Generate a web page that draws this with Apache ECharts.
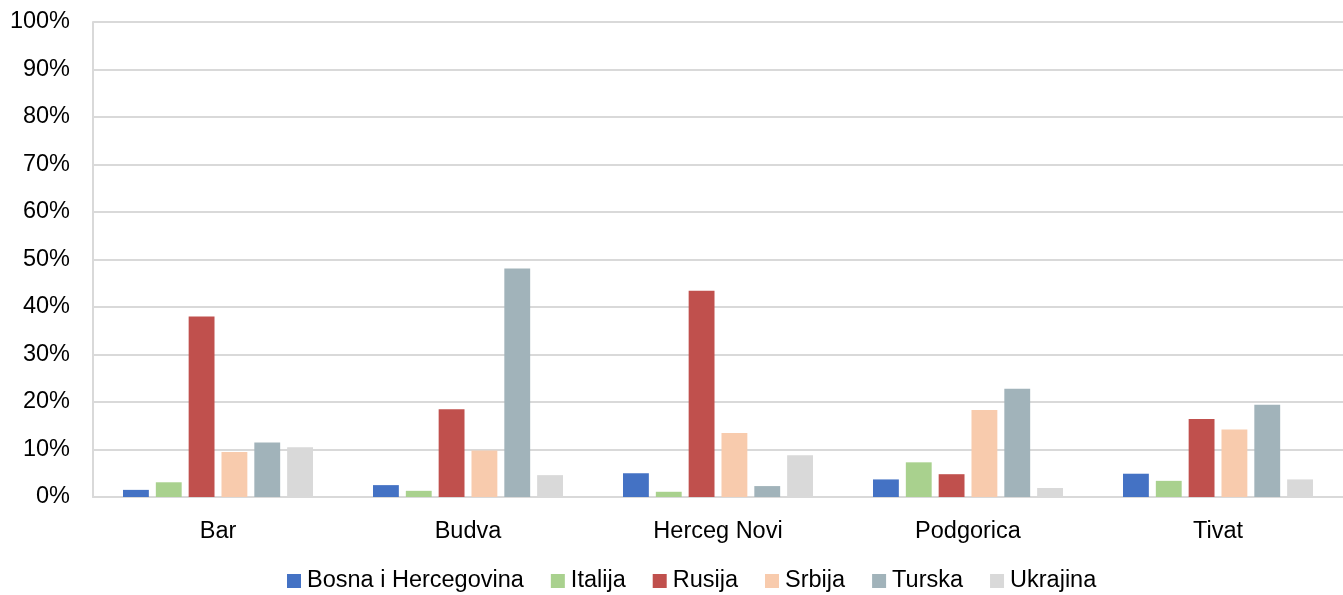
<!DOCTYPE html>
<html><head><meta charset="utf-8">
<script src="https://cdn.jsdelivr.net/npm/echarts@6/dist/echarts.min.js"></script>
<style>html,body{margin:0;padding:0;background:#fff}#c{width:1343px;height:595px}</style>
</head><body><div id="c"></div>
<script>
const categories = ['Bar', 'Budva', 'Herceg Novi', 'Podgorica', 'Tivat'];
const seriesNames = ['Bosna i Hercegovina', 'Italija', 'Rusija', 'Srbija', 'Turska', 'Ukrajina'];
const bosna   = [1.5, 2.5, 5.0, 3.7, 4.9];
const italija = [3.1, 1.3, 1.1, 7.3, 3.4];
const rusija  = [38.0, 18.5, 43.4, 4.8, 16.4];
const srbija  = [9.5, 9.8, 13.5, 18.3, 14.2];
const turska  = [11.5, 48.1, 2.3, 22.8, 19.4];
const ukrajina= [10.5, 4.6, 8.8, 1.9, 3.7];
const colors = ['#4472C4', '#A9D18E', '#C0504D', '#F8CBAD', '#A1B3BA', '#D9D9D9'];
const values = [bosna, italija, rusija, srbija, turska, ukrajina];
const font = 'Liberation Sans, Arial, sans-serif';
const chart = echarts.init(document.getElementById('c'));
chart.setOption({
  animation: false,
  color: colors,
  grid: {left: 93, right: 0, top: 22, bottom: 98, containLabel: false},
  legend: {
    top: 564, left: 282, itemWidth: 14, itemHeight: 14, itemGap: 27,
    icon: 'rect',
    textStyle: {fontFamily: font, fontSize: 23.5, color: '#000', padding: [0,0,0,1]},
    data: seriesNames
  },
  xAxis: {
    type: 'category', data: categories,
    axisLine: {lineStyle: {color: '#d9d9d9', width: 2}},
    axisTick: {show: false},
    axisLabel: {fontFamily: font, fontSize: 23.5, color: '#000', margin: 23}
  },
  yAxis: {
    type: 'value', min: 0, max: 100, interval: 10,
    axisLine: {show: true, lineStyle: {color: '#d9d9d9', width: 2}},
    axisTick: {show: false},
    splitLine: {lineStyle: {color: '#d9d9d9', width: 2}},
    axisLabel: {fontFamily: font, fontSize: 23.5, color: '#000', margin: 23, formatter: '{value}%'}
  },
  series: seriesNames.map((n, i) => ({
    name: n, type: 'bar', data: values[i],
    barGap: '27%', barCategoryGap: '24%'
  }))
});
</script></body></html>
